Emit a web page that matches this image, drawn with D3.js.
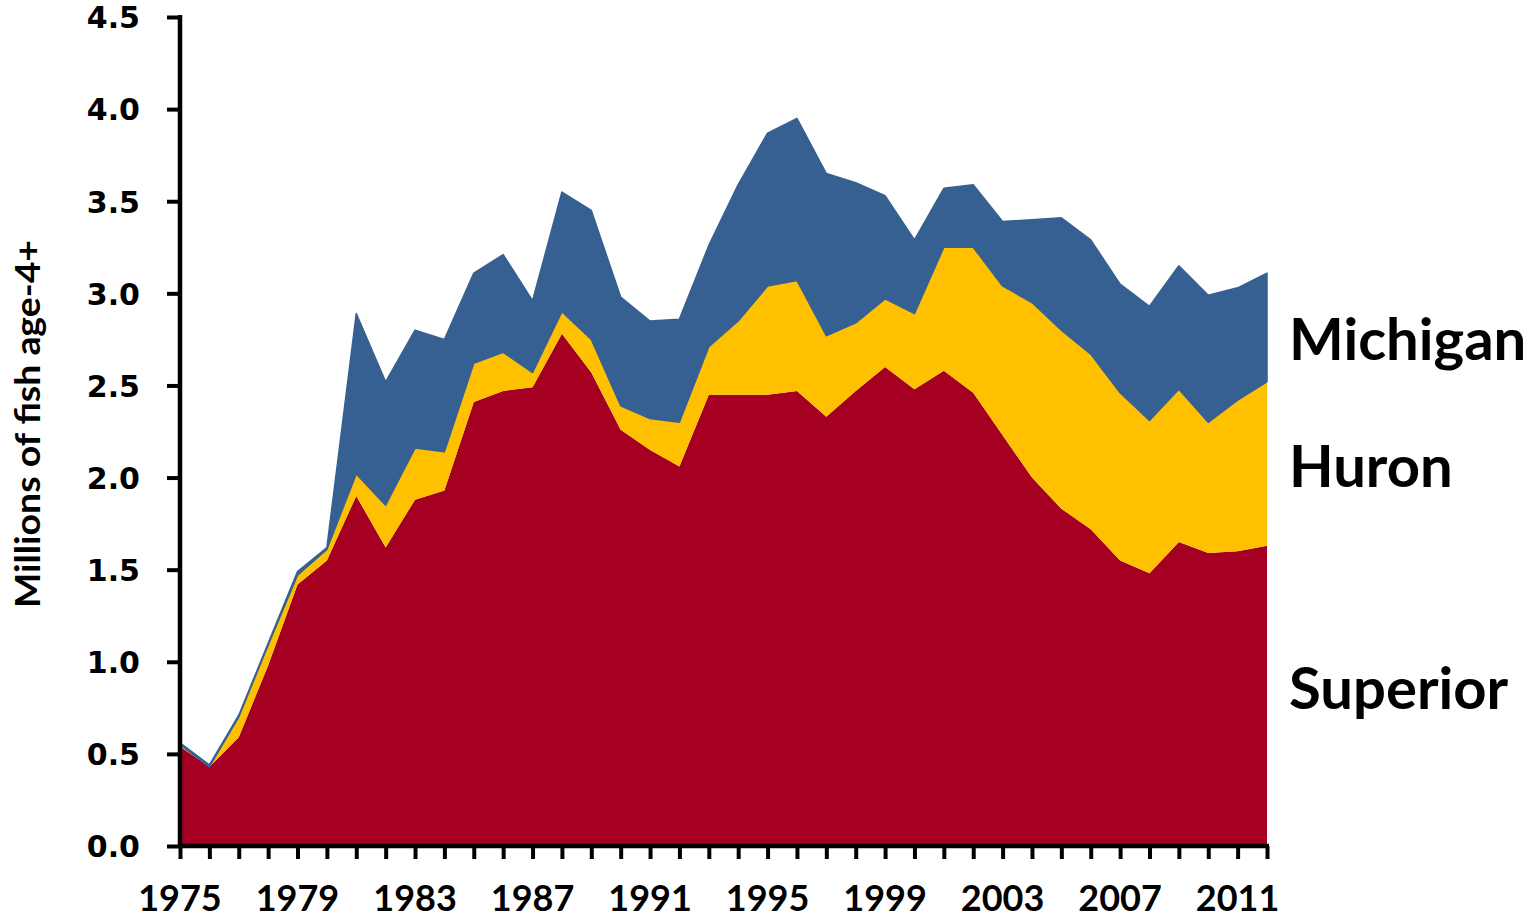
<!DOCTYPE html>
<html>
<head>
<meta charset="utf-8">
<script src="https://cdn.jsdelivr.net/npm/d3@7"></script>
<style>
  html, body { margin: 0; padding: 0; background: #fff; }
  svg { display: block; }
</style>
</head>
<body>
<div id="chart"></div>
<script>
// -- Data (millions of fish age-4+, stacked by lake) ----------
const years = d3.range(1975, 2013);

const superior = [
  0.54, 0.43, 0.59, 0.98, 1.42, 1.55, 1.90, 1.62, 1.88, 1.93,
  2.41, 2.47, 2.49, 2.78, 2.57, 2.26, 2.15, 2.06, 2.45, 2.45,
  2.45, 2.47, 2.33, 2.47, 2.60, 2.48, 2.58, 2.46, 2.23, 2.00,
  1.83, 1.72, 1.55, 1.48, 1.65, 1.59, 1.60, 1.63
];
const huron = [
  0.01, 0.00, 0.11, 0.11, 0.05, 0.06, 0.12, 0.23, 0.28, 0.21,
  0.21, 0.21, 0.08, 0.12, 0.18, 0.13, 0.17, 0.24, 0.26, 0.40,
  0.59, 0.60, 0.44, 0.37, 0.37, 0.41, 0.67, 0.79, 0.81, 0.95,
  0.97, 0.95, 0.91, 0.83, 0.83, 0.71, 0.82, 0.89
];
const michigan = [
  0.01, 0.01, 0.01, 0.01, 0.02, 0.01, 0.87, 0.67, 0.64, 0.61,
  0.49, 0.53, 0.39, 0.65, 0.70, 0.59, 0.53, 0.56, 0.55, 0.74,
  0.83, 0.88, 0.88, 0.76, 0.56, 0.40, 0.32, 0.34, 0.35, 0.45,
  0.61, 0.62, 0.59, 0.62, 0.67, 0.69, 0.61, 0.59
];

const seriesKeys = ["Superior", "Huron", "Michigan"];
const seriesColors = ["#a50021", "#ffc000", "#376092"];
const yTicks = [0, 0.5, 1, 1.5, 2, 2.5, 3, 3.5, 4, 4.5];
const xLabelYears = d3.range(1975, 2013, 4);

// -- Layout -----------------------------------------------------
const width = 1532, height = 918;
const plot = { left: 180, right: 1267, top: 17, bottom: 846 };

const svg = d3.select("#chart").append("svg")
  .attr("width", width)
  .attr("height", height);

const x = d3.scaleLinear().domain([1975, 2012]).range([plot.left, plot.right]);
const y = d3.scaleLinear().domain([0, 4.5]).range([plot.bottom, plot.top]);

const table = years.map((yr, i) => ({
  year: yr,
  Superior: superior[i],
  Huron: huron[i],
  Michigan: michigan[i]
}));

const stacked = d3.stack().keys(seriesKeys)(table);

const area = d3.area()
  .x((d) => x(d.data.year))
  .y0((d) => y(d[0]))
  .y1((d) => y(d[1]));

// Michigan layer gets a thin outline so the tiny early values still show
svg.append("g").selectAll("path")
  .data(stacked)
  .join("path")
  .attr("d", area)
  .attr("fill", (d, i) => seriesColors[i])
  .attr("stroke", (d, i) => (i === 2 ? seriesColors[i] : "none"))
  .attr("stroke-width", 1.5)
  .attr("stroke-linejoin", "round");

// -- Axes -------------------------------------------------------
const yAxis = svg.append("g")
  .attr("transform", `translate(${plot.left},0)`)
  .call(d3.axisLeft(y).tickValues(yTicks).tickSize(13).tickPadding(0).tickFormat(d3.format(".1f")));

yAxis.select(".domain").remove();
yAxis.selectAll(".tick line").attr("stroke", "#000").attr("stroke-width", 4);
yAxis.selectAll(".tick text")
  .attr("x", -40)
  .attr("dy", "0.36em")
  .style("font-family", "'DejaVu Sans', Verdana, sans-serif")
  .style("font-weight", "bold")
  .style("font-size", "30px")
  .attr("fill", "#000");

const xAxis = svg.append("g")
  .attr("transform", `translate(0,${plot.bottom})`)
  .call(d3.axisBottom(x).tickValues(years).tickSize(13).tickFormat(""));

xAxis.select(".domain").remove();
xAxis.selectAll(".tick line").attr("stroke", "#000").attr("stroke-width", 4);

svg.append("g").selectAll("text")
  .data(xLabelYears)
  .join("text")
  .attr("x", (d) => x(d))
  .attr("y", 911)
  .attr("text-anchor", "middle")
  .style("font-family", "Lato, 'Open Sans', sans-serif")
  .style("font-weight", "bold")
  .style("font-size", "36px")
  .text((d) => d);

// axis lines
svg.append("line")
  .attr("x1", plot.left).attr("x2", plot.left)
  .attr("y1", plot.top - 2).attr("y2", plot.bottom + 2)
  .attr("stroke", "#000").attr("stroke-width", 4.5);
svg.append("line")
  .attr("x1", plot.left - 2).attr("x2", plot.right + 2)
  .attr("y1", plot.bottom).attr("y2", plot.bottom)
  .attr("stroke", "#000").attr("stroke-width", 4.5);

// -- Titles and series labels ----------------------------------
svg.append("text")
  .attr("transform", `translate(40,${(240 + 608) / 2}) rotate(-90)`)
  .attr("text-anchor", "middle")
  .attr("textLength", 368)
  .attr("lengthAdjust", "spacingAndGlyphs")
  .style("font-family", "Lato, 'Open Sans', sans-serif")
  .style("font-weight", "bold")
  .style("font-size", "35px")
  .text("Millions of fish age-4+");

const seriesLabels = [
  { text: "Michigan", y: 360 },
  { text: "Huron", y: 487 },
  { text: "Superior", y: 709 }
];

svg.append("g").selectAll("text")
  .data(seriesLabels)
  .join("text")
  .attr("x", 1289)
  .attr("y", (d) => d.y)
  .style("font-family", "Lato, 'Open Sans', sans-serif")
  .style("font-weight", "bold")
  .style("font-size", "58px")
  .text((d) => d.text);
</script>
</body>
</html>
